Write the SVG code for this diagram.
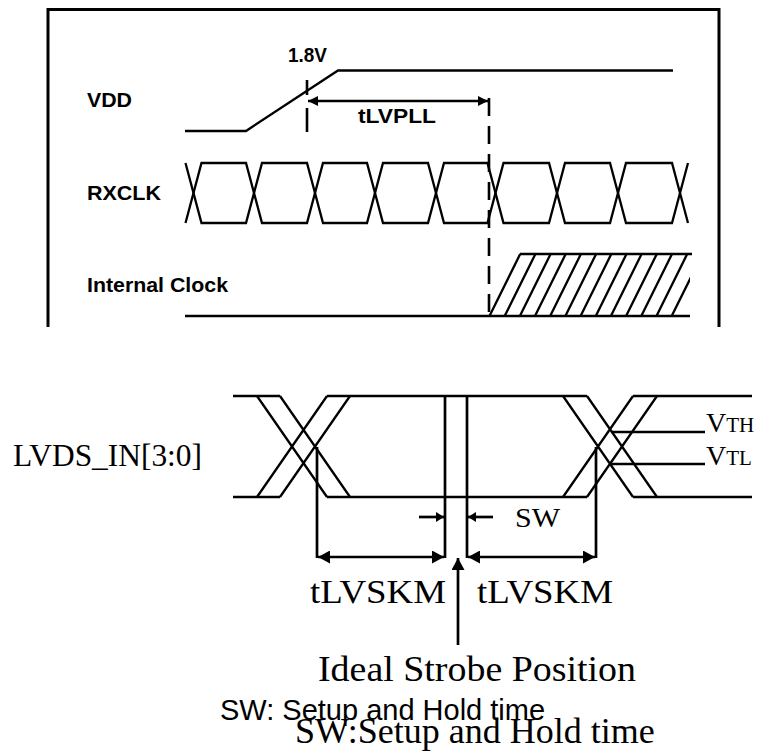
<svg xmlns="http://www.w3.org/2000/svg" width="760" height="751" viewBox="0 0 760 751">
<style>
.w{fill:none;stroke:#000;stroke-width:2.3;stroke-linecap:butt;stroke-linejoin:miter}
.t{fill:none;stroke:#000;stroke-width:2.7}
.d{fill:none;stroke:#000;stroke-width:2.6}
.hb{font-family:"Liberation Sans",Arial,sans-serif;font-weight:bold;font-size:20px;fill:#000}
.sf{font-family:"Liberation Serif","Times New Roman",serif;fill:#000}
.ar{font-family:"Liberation Sans",Arial,sans-serif;font-size:29px;fill:#000}
</style>
<defs>
<marker id="a1" markerUnits="userSpaceOnUse" markerWidth="10" markerHeight="10" refX="10" refY="5" orient="auto-start-reverse"><path d="M0,0 L10,5 L0,10 Z" fill="#000"/></marker>
<marker id="a2" markerUnits="userSpaceOnUse" markerWidth="12" markerHeight="13" refX="12" refY="6.5" orient="auto-start-reverse"><path d="M0,0 L12,6.5 L0,13 Z" fill="#000"/></marker>
<marker id="a3" markerUnits="userSpaceOnUse" markerWidth="8" markerHeight="10" refX="8" refY="5" orient="auto"><path d="M0,0 L8,5 L0,10 Z" fill="#000"/></marker>
<clipPath id="hc"><rect x="480" y="250" width="210" height="70"/></clipPath>
</defs>

<g id="frame">
<path d="M48,327 V9.5 H719 V327" fill="none" stroke="#000" stroke-width="3"/>
</g>

<g id="vdd">
<text class="hb" x="87" y="107" textLength="45" lengthAdjust="spacingAndGlyphs">VDD</text>
<path class="w" d="M185,131 H246 L338,70.5 H673"/>
<text class="hb" x="288" y="62" font-size="19" textLength="39" lengthAdjust="spacingAndGlyphs">1.8V</text>
</g>

<g id="rxclk">
<text class="hb" x="87" y="200" textLength="74" lengthAdjust="spacingAndGlyphs">RXCLK</text>
<path class="w" d="M185.5,223 L201.5,163 H246 L262,223 H307 L323,163 H367 L383,223 H428 L444,163 H487.5 L503.5,223 H549 L565,163 H610 L626,223 H672 L688,163"/>
<path class="w" d="M185.5,163 L201.5,223 H246 L262,163 H307 L323,223 H367 L383,163 H428 L444,223 H487.5 L503.5,163 H549 L565,223 H610 L626,163 H672 L688,223"/>
</g>

<g id="internal-clock">
<text class="hb" x="87" y="292" textLength="141" lengthAdjust="spacingAndGlyphs">Internal Clock</text>
<path class="w" d="M185,316 H690 M520,254 H692"/>
<g clip-path="url(#hc)" class="w">
<path d="M489.5,316 l30.7,-62 M504.7,316 l30.7,-62 M519.9,316 l30.7,-62 M535.0,316 l30.7,-62 M550.2,316 l30.7,-62 M565.4,316 l30.7,-62 M580.6,316 l30.7,-62 M595.8,316 l30.7,-62 M610.9,316 l30.7,-62 M626.1,316 l30.7,-62 M641.3,316 l30.7,-62 M656.5,316 l30.7,-62 M671.7,316 l30.7,-62"/>
</g>
</g>

<g id="connectors-top">
<path class="d" d="M307,80 V132" stroke-dasharray="15 13 30"/>
<path class="d" d="M489,98 V316" stroke-dasharray="18 10"/>
<line class="t" x1="308" y1="101" x2="488" y2="101" marker-start="url(#a1)" marker-end="url(#a1)"/>
<text class="hb" x="358" y="123" textLength="78" lengthAdjust="spacingAndGlyphs">tLVPLL</text>
</g>

<g id="lvds">
<text class="sf" x="13" y="466" font-size="31" textLength="189" lengthAdjust="spacingAndGlyphs">LVDS_IN[3:0]</text>
<path class="w" d="M233,396 H280 M327,396 H587 M633,396 H752 M233,497 H280 M327,497 H587 M633,497 H752"/>
<path class="w" d="M257,396 L327,497 M280,396 L350,497 M257,497 L327,396 M280,497 L350,396"/>
<path class="w" d="M563,396 L633,497 M587,396 L657,497 M563,497 L633,396 M587,497 L657,396"/>
<path class="w" d="M611,432 H705 M611,464 H705"/>
<text class="sf" x="706" y="432" font-size="28">V<tspan font-size="21">TH</tspan></text>
<text class="sf" x="706" y="465" font-size="28">V<tspan font-size="21">TL</tspan></text>
</g>

<g id="connectors-bottom">
<path class="t" d="M317,447 V558 M445,396 V558 M467,396 V558 M596,447 V558"/>
<line class="t" x1="318" y1="557" x2="444" y2="557" marker-start="url(#a2)" marker-end="url(#a2)"/>
<line class="t" x1="468" y1="557" x2="595" y2="557" marker-start="url(#a2)" marker-end="url(#a2)"/>
<line class="t" x1="419" y1="517" x2="444" y2="517" marker-end="url(#a3)"/>
<line class="t" x1="493" y1="517" x2="468" y2="517" marker-end="url(#a3)"/>
<line class="t" x1="458" y1="645" x2="458" y2="558" marker-end="url(#a2)"/>
</g>

<g id="labels">
<text class="sf" x="515" y="527" font-size="28" textLength="45" lengthAdjust="spacingAndGlyphs">SW</text>
<text class="sf" x="310" y="603" font-size="33" textLength="136" lengthAdjust="spacingAndGlyphs">tLVSKM</text>
<text class="sf" x="477" y="603" font-size="33" textLength="136" lengthAdjust="spacingAndGlyphs">tLVSKM</text>
<text class="sf" x="318" y="681" font-size="36" textLength="318" lengthAdjust="spacingAndGlyphs">Ideal Strobe Position</text>
<text class="ar" x="220" y="720">SW: Setup and Hold time</text>
<text class="sf" x="295" y="743" font-size="36">SW:Setup and Hold time</text>
</g>
</svg>
